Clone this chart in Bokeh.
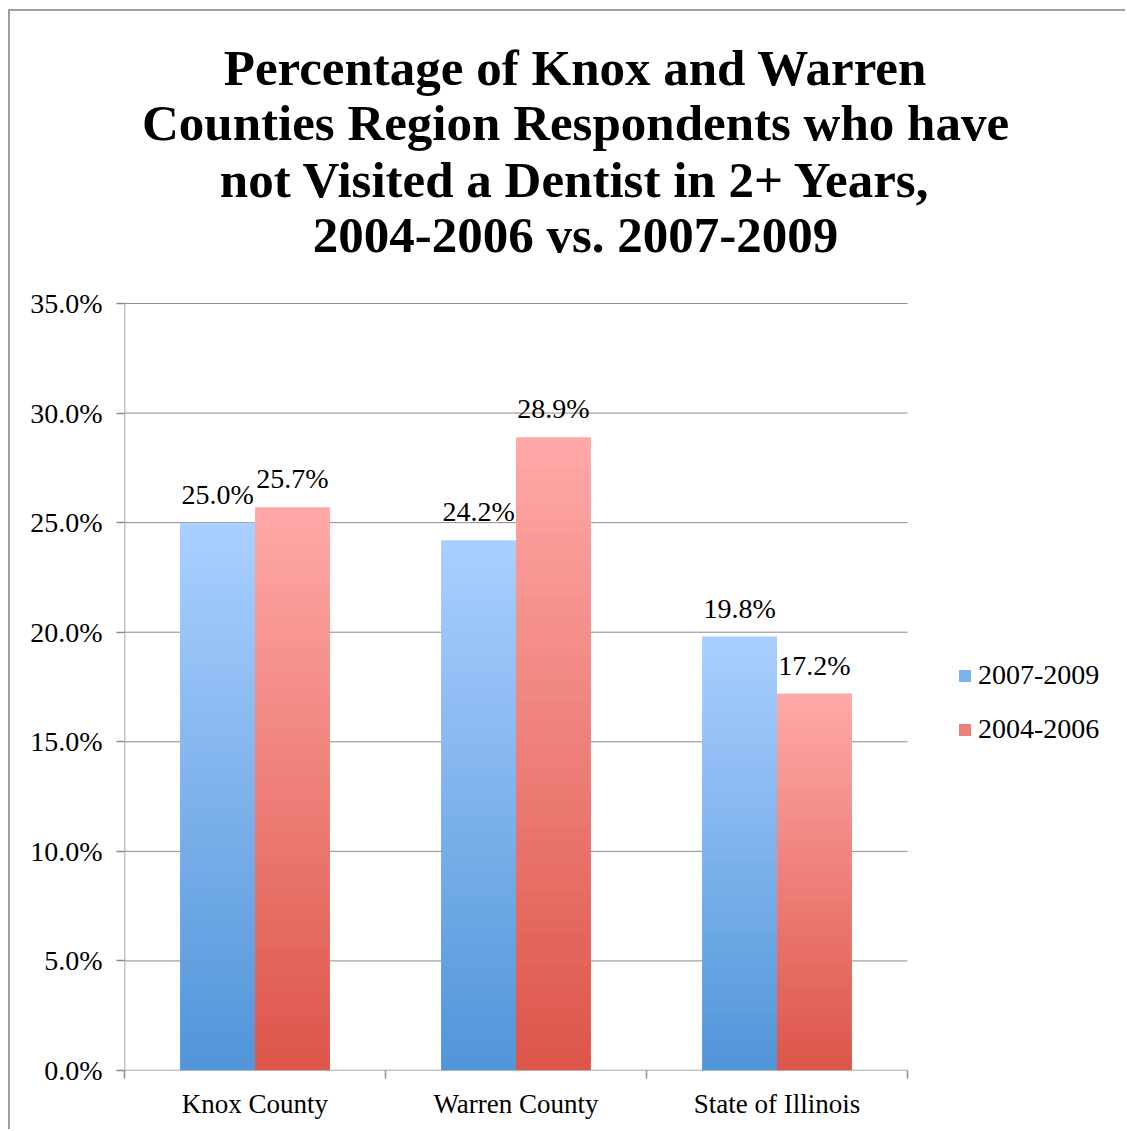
from bokeh.plotting import figure
from bokeh.models import (Range1d, FixedTicker, PrintfTickFormatter, ColumnDataSource,
                          Legend, LegendItem, Label)
from bokeh.core.properties import value
from bokeh.embed import file_html
from bokeh.resources import INLINE

categories = ["Knox County", "Warren County", "State of Illinois"]
series_names = ["2007-2009", "2004-2006"]
values_2007_2009 = [25.0, 24.2, 19.8]
values_2004_2006 = [25.7, 28.9, 17.2]
y_ticks = [0, 5, 10, 15, 20, 25, 30, 35]
title_lines = ["Percentage of Knox and Warren",
               "Counties Region Respondents who have",
               "not Visited a Dentist in 2+ Years,",
               "2004-2006 vs. 2007-2009"]

FONT = "Liberation Serif"
GRAY = "#8c8c8c"
BAR_W = 0.287
N = 60

# layout (page pixels)
PLOT_L, PLOT_R, PLOT_T, PLOT_B = 124, 907, 303, 1070
FIG_X0, FIG_Y0, FIG_W, FIG_H = 10, 11, 1117, 1120
ncat = len(categories)
ymax = max(y_ticks)
px_x = (PLOT_R - PLOT_L) / ncat
px_y = (PLOT_B - PLOT_T) / ymax


def hex2rgb(h):
    h = h.lstrip("#")
    return tuple(int(h[i:i + 2], 16) for i in (0, 2, 4))


def lerp(c1, c2, t):
    a, b = hex2rgb(c1), hex2rgb(c2)
    return "#%02x%02x%02x" % tuple(int(round(a[i] + (b[i] - a[i]) * t)) for i in range(3))


def gradient_source(vals, side, c_bottom, c_top):
    d = dict(left=[], right=[], bottom=[], top=[], color=[])
    for i, v in enumerate(vals):
        c = i + 0.5
        l, r = (c - BAR_W, c) if side == 0 else (c, c + BAR_W)
        for k in range(N):
            b = v * k / N
            t = min(v, v * (k + 1.4) / N)
            d["left"].append(l)
            d["right"].append(r)
            d["bottom"].append(b)
            d["top"].append(t)
            d["color"].append(lerp(c_bottom, c_top, (k + 0.5) / N))
    return ColumnDataSource(d)


x_end = ncat + (FIG_X0 + FIG_W - PLOT_R) / px_x
y_end = ymax + (PLOT_T - FIG_Y0) / px_y
p = figure(width=FIG_W, height=FIG_H, output_backend="svg", toolbar_location=None,
           x_range=Range1d(0, x_end), y_range=Range1d(0, y_end),
           min_border_left=PLOT_L - FIG_X0, min_border_right=0, min_border_top=0,
           min_border_bottom=FIG_Y0 + FIG_H - PLOT_B)
p.styles = {"margin-left": "8px", "margin-top": "9px",
            "border-left": "2px solid #a0a0a0", "border-top": "2px solid #a0a0a0"}
p.outline_line_color = None
p.background_fill_color = "white"
p.border_fill_color = "white"

# gridlines and axis lines limited to the plot area
p.segment(x0=[0] * (len(y_ticks) - 1), x1=[ncat] * (len(y_ticks) - 1), y0=y_ticks[1:], y1=y_ticks[1:],
          line_color=GRAY, line_width=1)
p.segment(x0=[0], x1=[ncat], y0=[0], y1=[0], line_color=GRAY, line_width=1.5)
p.segment(x0=[0], x1=[0], y0=[0], y1=[ymax], line_color=GRAY, line_width=1.5)

src_blue = gradient_source(values_2007_2009, 0, "#5195d9", "#aacfff")
src_red = gradient_source(values_2004_2006, 1, "#dc5549", "#ffa9a8")
r_blue = p.quad(left="left", right="right", bottom="bottom", top="top", fill_color="color",
                line_color=None, source=src_blue)
r_red = p.quad(left="left", right="right", bottom="bottom", top="top", fill_color="color",
               line_color=None, source=src_red)

# data labels
lab_x = [i + 0.5 - BAR_W / 2 for i in range(ncat)] + [i + 0.5 + BAR_W / 2 for i in range(ncat)]
lab_y = values_2007_2009 + values_2004_2006
lab_t = ["%.1f%%" % v for v in lab_y]
p.text(x=lab_x, y=lab_y, text=lab_t, text_align="center", text_baseline="bottom",
       y_offset=-13, text_font=value(FONT), text_font_size="28px", text_color="black")

# axes
p.yaxis.ticker = FixedTicker(ticks=y_ticks)
p.yaxis.formatter = PrintfTickFormatter(format="%.1f%%")
p.yaxis.major_label_text_font = FONT
p.yaxis.major_label_text_font_size = "28px"
p.yaxis.major_label_text_color = "black"
p.yaxis.major_tick_out = 8
p.yaxis.major_tick_in = 0
p.yaxis.minor_tick_out = 0
p.yaxis.minor_tick_in = 0
p.yaxis.major_label_standoff = 14
p.yaxis.axis_line_color = None
p.yaxis.major_tick_line_color = GRAY
p.yaxis.major_tick_line_width = 1.5

p.xaxis.ticker = FixedTicker(ticks=[i + 0.5 for i in range(ncat)], minor_ticks=list(range(ncat + 1)))
p.xaxis.major_label_overrides = {i + 0.5: c for i, c in enumerate(categories)}
p.xaxis.major_label_text_font = FONT
p.xaxis.major_label_text_font_size = "27px"
p.xaxis.major_label_text_color = "black"
p.xaxis.major_tick_out = 0
p.xaxis.major_tick_in = 0
p.xaxis.minor_tick_out = 8
p.xaxis.minor_tick_in = 0
p.xaxis.major_label_standoff = 10
p.xaxis.axis_line_color = None
p.xaxis.minor_tick_line_color = GRAY
p.xaxis.minor_tick_line_width = 1.5

p.xgrid.visible = False
p.ygrid.visible = False

# legend
legend = Legend(items=[LegendItem(label=series_names[0], renderers=[r_blue], index=N // 2),
                       LegendItem(label=series_names[1], renderers=[r_red], index=N // 2)],
                location=(957 - PLOT_L, PLOT_B - 745), orientation="vertical",
                label_text_font=FONT, label_text_font_size="28px", label_text_color="black",
                glyph_width=15, glyph_height=15, label_height=26, spacing=22,
                label_standoff=6, padding=0, margin=0,
                border_line_color=None, background_fill_alpha=0)
p.add_layout(legend, "center")

# title
baselines = [85, 140, 197, 252]
for line, b in zip(title_lines, baselines):
    p.add_layout(Label(x=575 - PLOT_L, y=PLOT_B - b + 18, x_units="screen", y_units="screen", text=line,
                       text_align="center", text_baseline="alphabetic",
                       text_font=FONT, text_font_style="bold", text_font_size="51px",
                       text_color="black"))

open("out.html", "w").write(file_html(p, INLINE))
